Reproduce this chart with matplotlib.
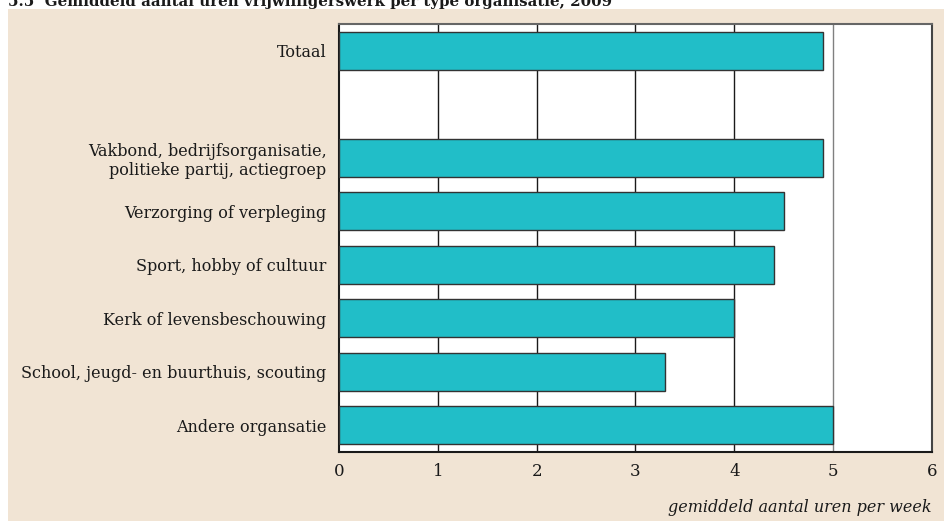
import matplotlib
matplotlib.use("Agg")
import matplotlib.pyplot as plt
from matplotlib.patches import Rectangle

# data (top to bottom); None marks the empty slot under "Totaal"
categories = [
    "Totaal",
    "",
    "Vakbond, bedrijfsorganisatie,\npolitieke partij, actiegroep",
    "Verzorging of verpleging",
    "Sport, hobby of cultuur",
    "Kerk of levensbeschouwing",
    "School, jeugd- en buurthuis, scouting",
    "Andere organsatie",
]
hours = [4.9, None, 4.9, 4.5, 4.4, 4.0, 3.3, 5.0]
xticks = [0, 1, 2, 3, 4, 5, 6]

title = "5.5  Gemiddeld aantal uren vrijwilligerswerk per type organisatie, 2009"
xlabel = "gemiddeld aantal uren per week"

bg = "#f1e4d4"
bar_color = "#21bec8"
font = "DejaVu Serif"
fs = 11.5

fig = plt.figure(figsize=(9.45, 5.21), dpi=100)
fig.patch.set_facecolor("white")
fig.patches.append(Rectangle((8 / 945, 0), 1 - 8 / 945, 1 - 9 / 521,
                             transform=fig.transFigure, facecolor=bg,
                             edgecolor="none", zorder=-10))

ax = fig.add_axes([339 / 945, 69 / 521, 593 / 945, 428 / 521])
ax.set_facecolor("white")

pos = [i for i, v in enumerate(hours) if v is not None]
vals = [v for v in hours if v is not None]
ax.barh(pos, vals, height=0.71, color=bar_color, edgecolor="#333333",
        linewidth=1.0, zorder=3)

ax.set_xlim(0, 6)
ax.set_ylim(len(categories) - 0.5, -0.5)
ax.set_xticks(xticks)
ax.set_xticklabels([str(t) for t in xticks], family=font, fontsize=fs + 0.5)
ax.set_yticks(range(len(categories)))
ax.set_yticklabels(categories, family=font, fontsize=fs, linespacing=1.15)
ax.tick_params(axis="both", length=0, colors="#1a1a1a")
ax.tick_params(axis="y", pad=9)
ax.tick_params(axis="x", pad=8)

for t in xticks[1:-1]:
    ax.axvline(t, color="#1a1a1a" if t < 5 else "#808080", lw=1.0, zorder=1)

for side, c in [("left", "#1a1a1a"), ("bottom", "#1a1a1a"),
                ("top", "#666666"), ("right", "#444444")]:
    ax.spines[side].set_color(c)
    ax.spines[side].set_linewidth(1.5)

fig.text(932 / 945, 1 - 507 / 521, xlabel, family=font, style="italic",
         fontsize=fs, ha="right", va="center", color="#1a1a1a")
fig.text(8 / 945, 1 - 6 / 521, title, family=font, weight="bold",
         fontsize=10.8, ha="left", va="baseline", color="#1a1a1a")

fig.savefig("out.png", dpi=100, facecolor=fig.get_facecolor())
